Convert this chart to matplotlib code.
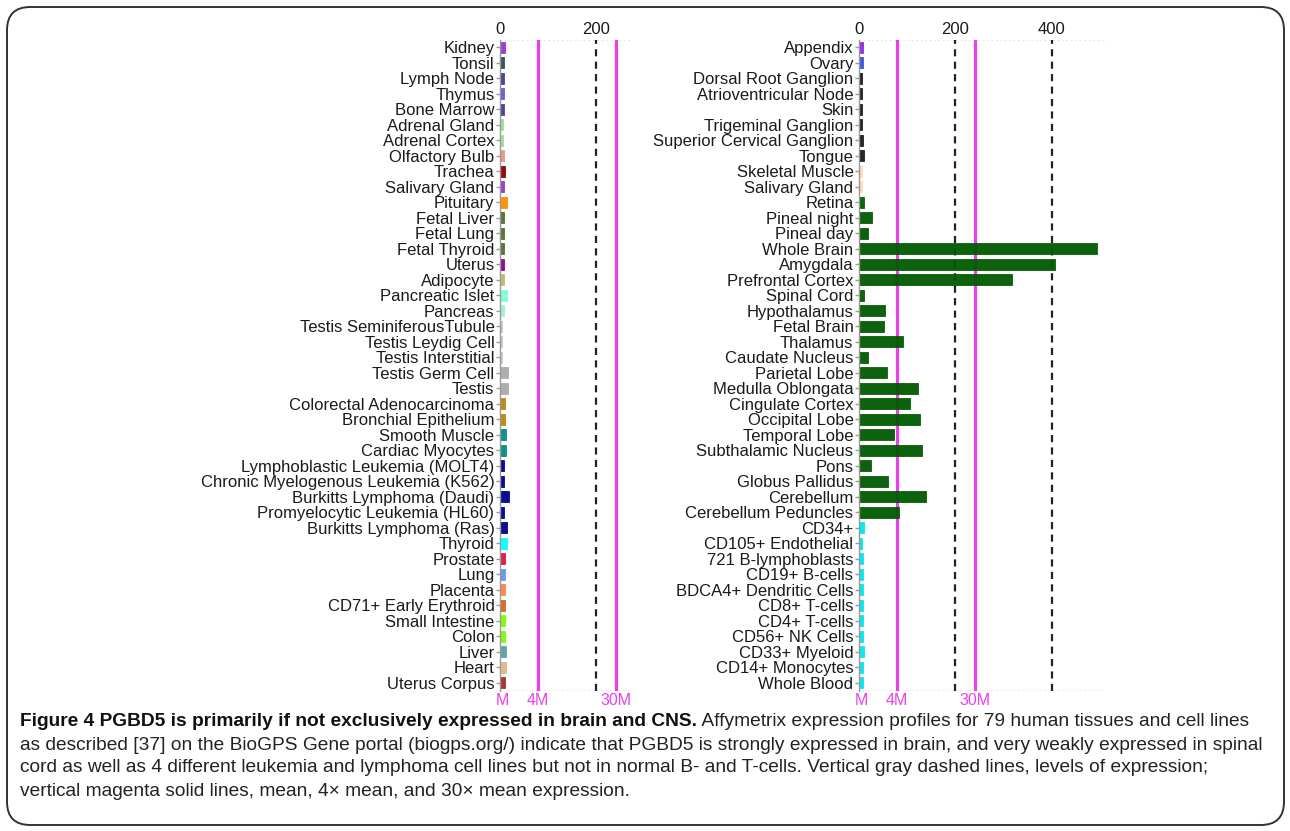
import matplotlib
matplotlib.use('Agg')
import matplotlib.pyplot as plt
from matplotlib.patches import FancyBboxPatch
import numpy as np

plt.rcParams['font.family'] = ['Liberation Sans', 'DejaVu Sans']

# tissues, first panel
left_names = ['Kidney', 'Tonsil', 'Lymph Node', 'Thymus', 'Bone Marrow', 'Adrenal Gland',
              'Adrenal Cortex', 'Olfactory Bulb', 'Trachea', 'Salivary Gland', 'Pituitary',
              'Fetal Liver', 'Fetal Lung', 'Fetal Thyroid', 'Uterus', 'Adipocyte',
              'Pancreatic Islet', 'Pancreas', 'Testis SeminiferousTubule', 'Testis Leydig Cell',
              'Testis Interstitial', 'Testis Germ Cell', 'Testis', 'Colorectal Adenocarcinoma',
              'Bronchial Epithelium', 'Smooth Muscle', 'Cardiac Myocytes',
              'Lymphoblastic Leukemia (MOLT4)', 'Chronic Myelogenous Leukemia (K562)',
              'Burkitts Lymphoma (Daudi)', 'Promyelocytic Leukemia (HL60)',
              'Burkitts Lymphoma (Ras)', 'Thyroid', 'Prostate', 'Lung', 'Placenta',
              'CD71+ Early Erythroid', 'Small Intestine', 'Colon', 'Liver', 'Heart',
              'Uterus Corpus']
left_vals = [10, 8, 8, 8, 8, 7, 7, 8, 10, 8, 15, 8, 8, 8, 9, 8, 15, 9, 5, 5, 5, 16, 16,
             10, 10, 12, 13, 9, 9, 19, 9, 14, 14, 10, 11, 10, 10, 10, 10, 13, 13, 10]
left_cols = ['#9932CC', '#2F4F4F', '#483D8B', '#6A5ACD', '#483D8B', '#98E098', '#98E098',
             '#E9967A', '#8B0000', '#9932CC', '#FF8C00', '#556B2F', '#556B2F', '#556B2F',
             '#8B008B', '#BDB76B', '#7FFFD4', '#A0F0D8', '#C8C8C8', '#C8C8C8', '#C8C8C8',
             '#A9A9A9', '#A9A9A9', '#B8860B', '#B8860B', '#008B8B', '#008B8B', '#00008B',
             '#00008B', '#00008B', '#00008B', '#00008B', '#00FFFF', '#DC143C', '#6495ED',
             '#FF7F50', '#D2691E', '#7CFC00', '#7CFC00', '#5F9EA0', '#DEB887', '#A52A2A']

# tissues, second panel
right_names = ['Appendix', 'Ovary', 'Dorsal Root Ganglion', 'Atrioventricular Node', 'Skin',
               'Trigeminal Ganglion', 'Superior Cervical Ganglion', 'Tongue',
               'Skeletal Muscle', 'Salivary Gland', 'Retina', 'Pineal night', 'Pineal day',
               'Whole Brain', 'Amygdala', 'Prefrontal Cortex', 'Spinal Cord', 'Hypothalamus',
               'Fetal Brain', 'Thalamus', 'Caudate Nucleus', 'Parietal Lobe',
               'Medulla Oblongata', 'Cingulate Cortex', 'Occipital Lobe', 'Temporal Lobe',
               'Subthalamic Nucleus', 'Pons', 'Globus Pallidus', 'Cerebellum',
               'Cerebellum Peduncles', 'CD34+', 'CD105+ Endothelial', '721 B-lymphoblasts',
               'CD19+ B-cells', 'BDCA4+ Dendritic Cells', 'CD8+ T-cells', 'CD4+ T-cells',
               'CD56+ NK Cells', 'CD33+ Myeloid', 'CD14+ Monocytes', 'Whole Blood']
right_vals = [9, 8, 7, 7, 7, 7, 9, 10, 6, 6, 11, 26, 18, 495, 406, 318, 10, 55, 52, 92,
              19, 59, 122, 106, 126, 73, 130, 25, 61, 139, 84, 10, 7, 9, 8, 8, 8, 8, 8,
              10, 9, 8]
right_cols = ['#8A2BE2', '#4050E0'] + ['#1A1A1A'] * 6 + ['#FFDAB9'] * 2 + \
             ['#005A00'] * 21 + ['#00E5EE'] * 11

level_ticks_left = [0, 200]
level_ticks_right = [0, 200, 400]
mean_pos = [6, 79, 241]
mean_labels = ['M', '4M', '30M']

MAGENTA = '#EC3FEC'

fig = plt.figure(figsize=(12.9, 8.31), dpi=100)
W, H = 1290, 831

# rounded frame around the whole figure
frame = FancyBboxPatch((7 / W, 6 / H), 1277 / W, 818 / H,
                       boxstyle='round,pad=0,rounding_size=0.018',
                       transform=fig.transFigure, fill=False,
                       edgecolor='#333333', linewidth=1.4, mutation_aspect=W / H)
fig.patches.append(frame)

top = 1 - 39.5 / H
bottom = 1 - 690.5 / H


def panel(x0, x1, xmax, names, vals, cols, levels):
    ax = fig.add_axes([x0 / W, bottom, (x1 - x0) / W, top - bottom])
    y = np.arange(len(names))
    # the mean itself sits under the bars, only 4x and 30x show as lines
    for xv in mean_pos[1:]:
        ax.axvline(xv, color=MAGENTA, lw=2.3, zorder=1)
    for lv in levels[1:]:
        ax.axvline(lv, color='#222222', lw=1.6, ls=(0, (3.2, 2.4)), zorder=1)
    ax.barh(y, vals, height=0.74, color=cols, edgecolor=cols, lw=0.6,
            alpha=0.95, zorder=2)
    ax.set_ylim(len(names) - 0.5, -0.5)
    ax.set_xlim(0, xmax)
    ax.set_yticks(y)
    ax.set_yticklabels(names, fontsize=12, color='#1a1a1a')
    ax.tick_params(axis='y', length=3, width=1, color='#999999', pad=1)
    ax.xaxis.tick_top()
    ax.set_xticks(levels)
    ax.set_xticklabels([str(v) for v in levels], fontsize=12, color='#1a1a1a')
    ax.tick_params(axis='x', length=0, pad=2)
    for s in ['right', 'bottom', 'top']:
        ax.spines[s].set_visible(False)
    ax.spines['left'].set_color('#999999')
    ax.spines['left'].set_linewidth(1.0)
    ax.axhline(-0.5, color='#dddddd', lw=1.2, ls=':', zorder=0)
    ax.axhline(len(names) - 0.5, color='#e4e4e4', lw=1.2, ls=':', zorder=0)
    for xv, lab in zip(mean_pos, mean_labels):
        ax.text(xv, -0.004, lab, transform=ax.get_xaxis_transform(), ha='center',
                va='top', fontsize=11.5, color=MAGENTA)
    return ax


panel(500, 630, 270, left_names, left_vals, left_cols, level_ticks_left)
panel(859, 1107, 515, right_names, right_vals, right_cols, level_ticks_right)

# caption
cap_font = ['Liberation Sans', 'DejaVu Sans']
cap_size = 13.8
head = 'Figure 4 PGBD5 is primarily if not exclusively expressed in brain and CNS.'
lines = [' Affymetrix expression profiles for 79 human tissues and cell lines',
         'as described [37] on the BioGPS Gene portal (biogps.org/) indicate that PGBD5 is '
         'strongly expressed in brain, and very weakly expressed in spinal',
         'cord as well as 4 different leukemia and lymphoma cell lines but not in normal B- '
         'and T-cells. Vertical gray dashed lines, levels of expression;',
         'vertical magenta solid lines, mean, 4\u00d7 mean, and 30\u00d7 mean expression.']
ys = [722, 745, 768, 791]

t0 = fig.text(20 / W, 1 - ys[0] / H, head, fontsize=cap_size, fontweight='bold',
              family=cap_font, va='center', ha='left', color='#111111')
fig.canvas.draw()
bb = t0.get_window_extent(fig.canvas.get_renderer())
fig.text(bb.x1 / W, 1 - ys[0] / H, lines[0], fontsize=cap_size, family=cap_font,
         va='center', ha='left', color='#222222')
for txt, yy in zip(lines[1:], ys[1:]):
    fig.text(20 / W, 1 - yy / H, txt, fontsize=cap_size, family=cap_font,
             va='center', ha='left', color='#222222')

fig.savefig('out.png', dpi=100)
